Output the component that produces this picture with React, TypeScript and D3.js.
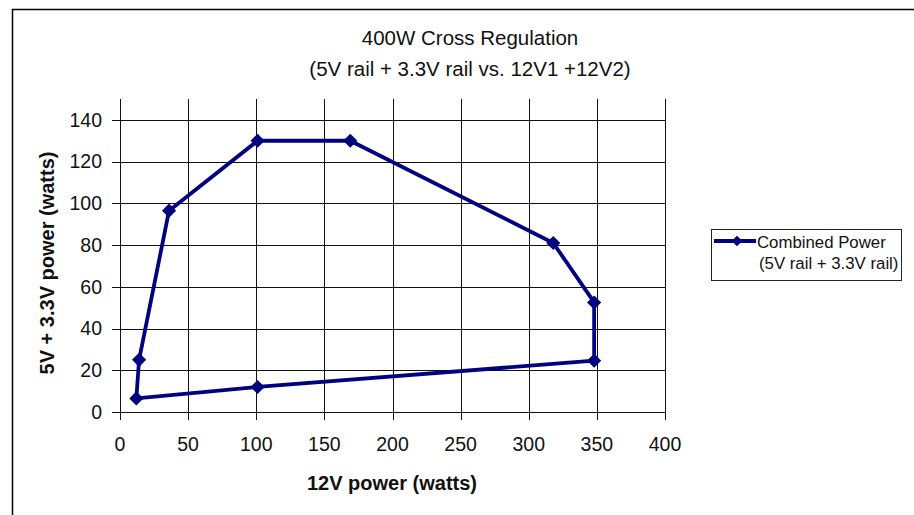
import * as d3 from 'd3'

// combined 5V + 3.3V load vs. 12V load, traced around the regulation envelope
const power12V = [12, 14, 36, 101, 169, 318, 348, 348, 101, 12]
const power5V33V = [6.5, 25, 96.5, 130, 130, 81, 52.5, 24.6, 12, 6.5]

const xTicks = [0, 50, 100, 150, 200, 250, 300, 350, 400]
const yTicks = [0, 20, 40, 60, 80, 100, 120, 140]

const titleLines = ['400W Cross Regulation', '(5V rail + 3.3V rail vs. 12V1 +12V2)']
const legendLines = ['Combined Power', '(5V rail + 3.3V rail)']

const width = 914
const height = 515
const font = '"Liberation Sans", Arial, sans-serif'
const navy = '#000080'

export default function App() {
  const x = d3.scaleLinear([0, 400], [120, 665])
  const y = d3.scaleLinear([0, 150], [412, 99])
  const pts = power12V.map((v, i) => [v, power5V33V[i]] as [number, number])
  const line = d3
    .line<[number, number]>()
    .x((d) => x(d[0]))
    .y((d) => y(d[1]))
  const diamond = d3.symbol(d3.symbolSquare, 100)() || undefined
  const crisp = (v: number) => Math.round(v) + 0.5

  return (
    <svg
      width={width}
      height={height}
      style={{ position: 'absolute', left: 0, top: 0, background: '#fff' }}
      fontFamily={font}
    >
      {/* outer chart frame, clipped on right and bottom */}
      <path d="M12.5,515 V9.5 H914" fill="none" stroke="#000" strokeWidth={1.5} />

      {titleLines.map((t, i) => (
        <text key={t} x={470} y={45 + i * 30.5} textAnchor="middle" fontSize={20.5} fill="#111">
          {t}
        </text>
      ))}

      {/* grid */}
      <g stroke="#111" strokeWidth={1} shapeRendering="crispEdges">
        {yTicks.map((t) => (
          <line key={'h' + t} x1={112} x2={665} y1={crisp(y(t))} y2={crisp(y(t))} />
        ))}
        {xTicks.map((t) => (
          <line key={'v' + t} x1={crisp(x(t))} x2={crisp(x(t))} y1={99} y2={420} />
        ))}
      </g>

      <g fontSize={19.5} fill="#111">
        {yTicks.map((t) => (
          <text key={t} x={102} y={y(t)} dy="0.35em" textAnchor="end">
            {t}
          </text>
        ))}
        {xTicks.map((t) => (
          <text key={t} x={x(t)} y={451} textAnchor="middle">
            {t}
          </text>
        ))}
      </g>

      <text x={392} y={490} textAnchor="middle" fontSize={20} fontWeight="bold" fill="#111">
        12V power (watts)
      </text>
      <text
        transform="translate(54,263) rotate(-90)"
        textAnchor="middle"
        fontSize={20}
        fontWeight="bold"
        fill="#111"
      >
        5V + 3.3V power (watts)
      </text>

      <path d={line(pts) || undefined} fill="none" stroke={navy} strokeWidth={3.8} strokeLinejoin="round" />
      {pts.slice(0, -1).map((d, i) => (
        <path
          key={i}
          d={diamond}
          fill={navy}
          transform={`translate(${x(d[0])},${y(d[1])}) rotate(45)`}
        />
      ))}

      {/* legend */}
      <rect x={711.5} y={229.5} width={190} height={51} fill="#fff" stroke="#222" strokeWidth={1} />
      <line x1={714} x2={756} y1={241} y2={241} stroke={navy} strokeWidth={3.8} />
      <path d={diamond} fill={navy} transform="translate(737,241) rotate(45) scale(0.75)" />
      {legendLines.map((t, i) => (
        <text key={t} x={i === 0 ? 757 : 759} y={248 + i * 21} fontSize={16.8} fill="#111">
          {t}
        </text>
      ))}
    </svg>
  )
}
